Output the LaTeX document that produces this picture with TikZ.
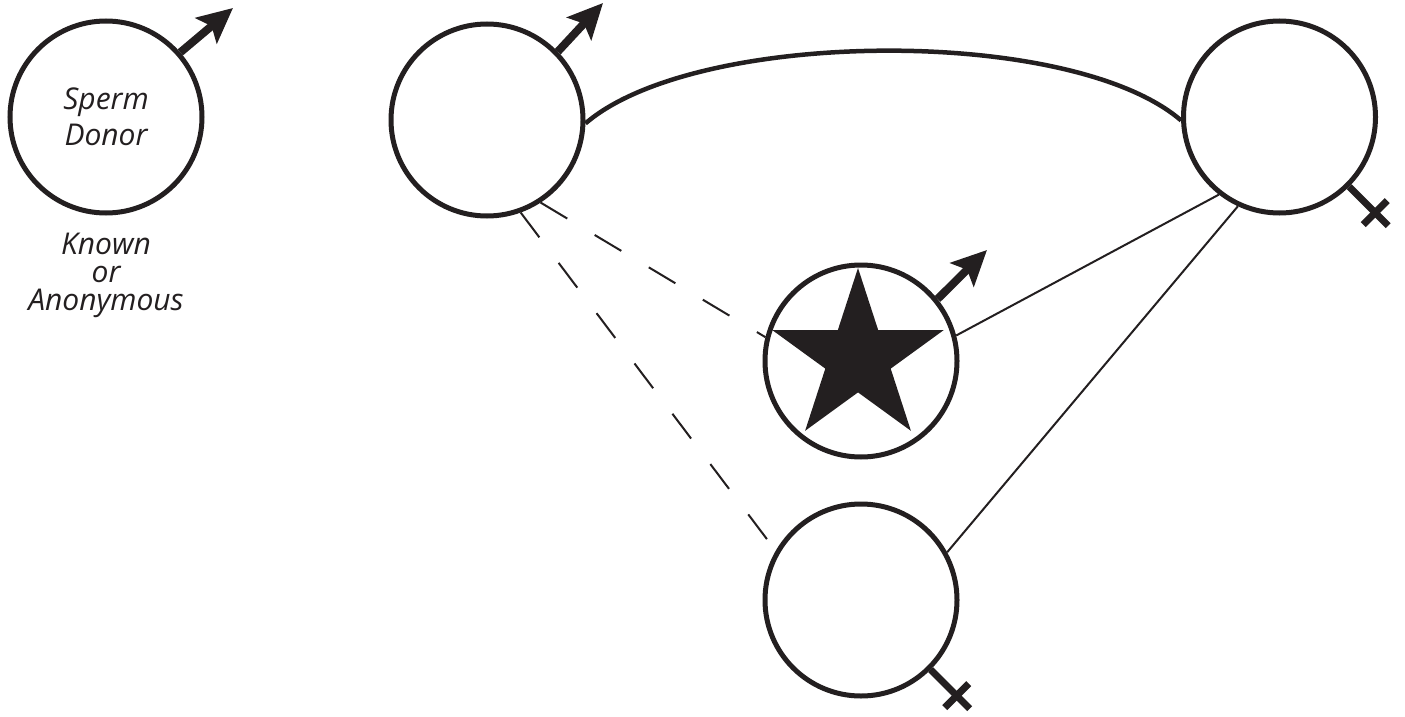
\documentclass[tikz,border=0pt]{standalone}
\usepackage{fontspec}
\setmainfont{Open Sans}
\usetikzlibrary{arrows.meta,shapes.geometric,calc}
\definecolor{ink}{RGB}{35,31,32}
\begin{document}
\begin{tikzpicture}[x=1pt,y=-1pt,
  person/.style={circle,draw=ink,line width=5pt,minimum size=192pt,inner sep=0pt},
  lbl/.style={font=\itshape\fontsize{30}{37}\selectfont,align=center,text=ink},
  malearrow/.style={draw=ink,line width=8pt,-{Stealth[length=35pt,width=33pt,inset=7pt,fill=ink]}},
  femline/.style={draw=ink,line width=7pt},
  tie/.style={draw=ink,line width=4.5pt},
  thinline/.style={draw=ink,line width=2pt},
  dashline/.style={draw=ink,line width=2pt,dash pattern=on 31pt off 32pt},
]
\useasboundingbox (0,0) rectangle (1405,717);

% persons
\node[person,lbl] (donor) at (106,117) {Sperm\\[-1pt]Donor};
\node[lbl,font=\itshape\fontsize{30}{28}\selectfont] (donorlabel) at (106,275) {Known\\or\\Anonymous};
\node[person] (man) at (487,120) {};
\node[person] (rw) at (1279.5,117) {};
\node[person] (child) at (861,361) {};
\node[person] (bw) at (861,600) {};

% star in child
\node[star,star points=5,star point ratio=2.618,fill=ink,draw=none,minimum size=180pt,inner sep=0pt] (starmark) at (858,358) {};

% male arrows
\coordinate (donortip) at (233,8);
\coordinate (mantip) at (603,3);
\coordinate (childtip) at (987,250);
\draw[malearrow] (donor.41) -- (donortip);
\draw[malearrow] (man.44) -- (mantip);
\draw[malearrow] (child.39) -- (childtip);

% female crosses
\draw[femline] (rw.-45) -- ++(39,39);
\draw[femline] ($(rw.-45)+(26,26)$) +(-12,12) -- +(12,-12);
\draw[femline] (bw.-45) -- ++(39,39);
\draw[femline] ($(bw.-45)+(26,26)$) +(-12,12) -- +(12,-12);

% relationship curve
\draw[tie] (man.-2) .. controls +(110,-95) and +(-110,-95) .. (rw.182);

% thin lines
\draw[thinline] (child.15) -- (rw.232);
\draw[thinline] (bw.29) -- (rw.245);

% dashed lines
\draw[dashline] (man.-57) -- (child.166);
\draw[dashline] (man.-70) -- (bw.150);
\end{tikzpicture}
\end{document}
